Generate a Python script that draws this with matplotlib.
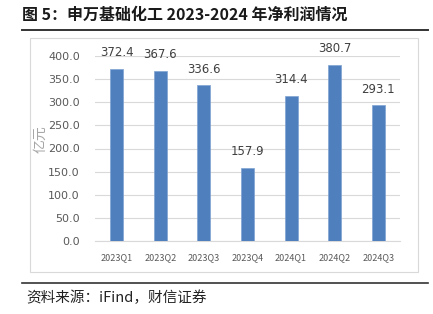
import matplotlib.pyplot as plt
import matplotlib.patches as mpatches
from matplotlib.lines import Line2D

plt.rcParams['font.family'] = ['Noto Sans CJK SC', 'DejaVu Sans']

# --- Data ---
quarters = ['2023Q1', '2023Q2', '2023Q3', '2023Q4', '2024Q1', '2024Q2', '2024Q3']
net_profit = [372.4, 367.6, 336.6, 157.9, 314.4, 380.7, 293.1]
y_ticks = [0, 50, 100, 150, 200, 250, 300, 350, 400]

TITLE = '图 5：申万基础化工 2023-2024 年净利润情况'
SOURCE = '资料来源：iFind，财信证券'
BAR_COLOR = '#4F7FBC'
W, H = 433, 314

fig = plt.figure(figsize=(W / 100, H / 100), dpi=100)

# outer frame of the chart box
fig.add_artist(mpatches.Rectangle((30 / W, 1 - 272 / H), 388 / W, 234 / H,
                                  transform=fig.transFigure, fill=False,
                                  edgecolor='#D9D9D9', linewidth=0.8))

ax = fig.add_axes([95 / W, 1 - 241 / H, 305 / W, 185 / H])
x = range(len(quarters))
ax.bar(x, net_profit, width=0.3, color=BAR_COLOR, edgecolor='#7FA3D3',
       linewidth=0.5, zorder=3)
for xi, v in zip(x, net_profit):
    ax.annotate(f'{v:.1f}', (xi, v), xytext=(0, 7), textcoords='offset points',
                ha='center', va='bottom', fontsize=8.5, color='#404040',
                family='DejaVu Sans')

ax.set_xlim(-0.5, len(quarters) - 0.5)
ax.set_ylim(0, 400)
ax.set_yticks(y_ticks)
ax.set_yticklabels([f'{t:.1f}' for t in y_ticks], fontsize=8, color='#595959',
                   family='DejaVu Sans')
ax.set_xticks(list(x))
ax.set_xticklabels(quarters, fontsize=6.5, color='#595959', fontweight='medium')
ax.tick_params(length=0, pad=11)
ax.tick_params(axis='x', pad=9)
ax.grid(axis='y', color='#D9D9D9', linewidth=0.8, zorder=0)
for s in ['top', 'right', 'left']:
    ax.spines[s].set_visible(False)
ax.spines['bottom'].set_color('#D9D9D9')
ax.set_ylabel('亿元', fontsize=10, color='#A6A6A6')
ax.yaxis.set_label_coords(-0.157, 0.55)

# title, rules and source
fig.text(22 / W, 1 - 15 / H, TITLE, fontsize=11.5, fontweight='bold',
         va='center', ha='left', color='#1a1a1a')
fig.add_artist(Line2D([22 / W, 428 / W], [1 - 30 / H, 1 - 30 / H],
                      color='#333333', linewidth=1.4))
fig.add_artist(Line2D([22 / W, 428 / W], [1 - 283 / H, 1 - 283 / H],
                      color='#333333', linewidth=1.2))
fig.text(26 / W, 1 - 298 / H, SOURCE, fontsize=10.5, style='italic',
         va='center', ha='left', color='#222222')

fig.savefig('out.png', dpi=100)
